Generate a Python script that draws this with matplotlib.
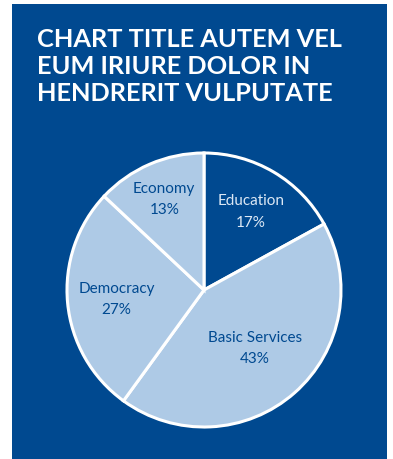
import numpy as np
import matplotlib
matplotlib.use("Agg")
import matplotlib.pyplot as plt
from matplotlib.patches import Rectangle

# data
labels = ["Education", "Basic Services", "Democracy", "Economy"]
shares = [17, 43, 27, 13]
title = "CHART TITLE AUTEM VEL\nEUM IRIURE DOLOR IN\nHENDRERIT VULPUTATE"

navy = "#004990"
light = "#aecae6"
slice_colors = [navy, light, light, light]
text_colors = ["#dce8f5", navy, navy, navy]
label_dist = [0.67, 0.56, 0.64, 0.73]

W, H = 393, 460
fig = plt.figure(figsize=(W / 100, H / 100), dpi=100)
fig.patch.set_facecolor("white")
fig.patches.append(Rectangle((12 / W, 0), 375 / W, 455 / H, transform=fig.transFigure,
                             facecolor=navy, edgecolor="none", zorder=-5))

fig.text(37 / W, 1 - 28 / H, title, ha="left", va="top", color="white",
         fontsize=18.3, fontweight="bold", family="Lato", linespacing=1.2)

# pie centre (204, 291) px, radius 137 px
r = 137
ax = fig.add_axes([(204 - r) / W, (H - 291 - r) / H, 2 * r / W, 2 * r / H])
ax.set_zorder(2)
wedges, _ = ax.pie(shares, colors=slice_colors, startangle=90, counterclock=False,
                   wedgeprops=dict(edgecolor="white", linewidth=2.2))
ax.set_xlim(-1, 1)
ax.set_ylim(-1, 1)
ax.set_aspect("equal")
ax.axis("off")

for w, lab, val, tc, d in zip(wedges, labels, shares, text_colors, label_dist):
    ang = np.deg2rad((w.theta1 + w.theta2) / 2)
    ax.text(d * np.cos(ang), d * np.sin(ang), f"{lab}\n{val}%", ha="center", va="center",
            color=tc, fontsize=11, family="Lato", linespacing=1.65)

fig.savefig("out.png", dpi=100, facecolor=fig.get_facecolor())
